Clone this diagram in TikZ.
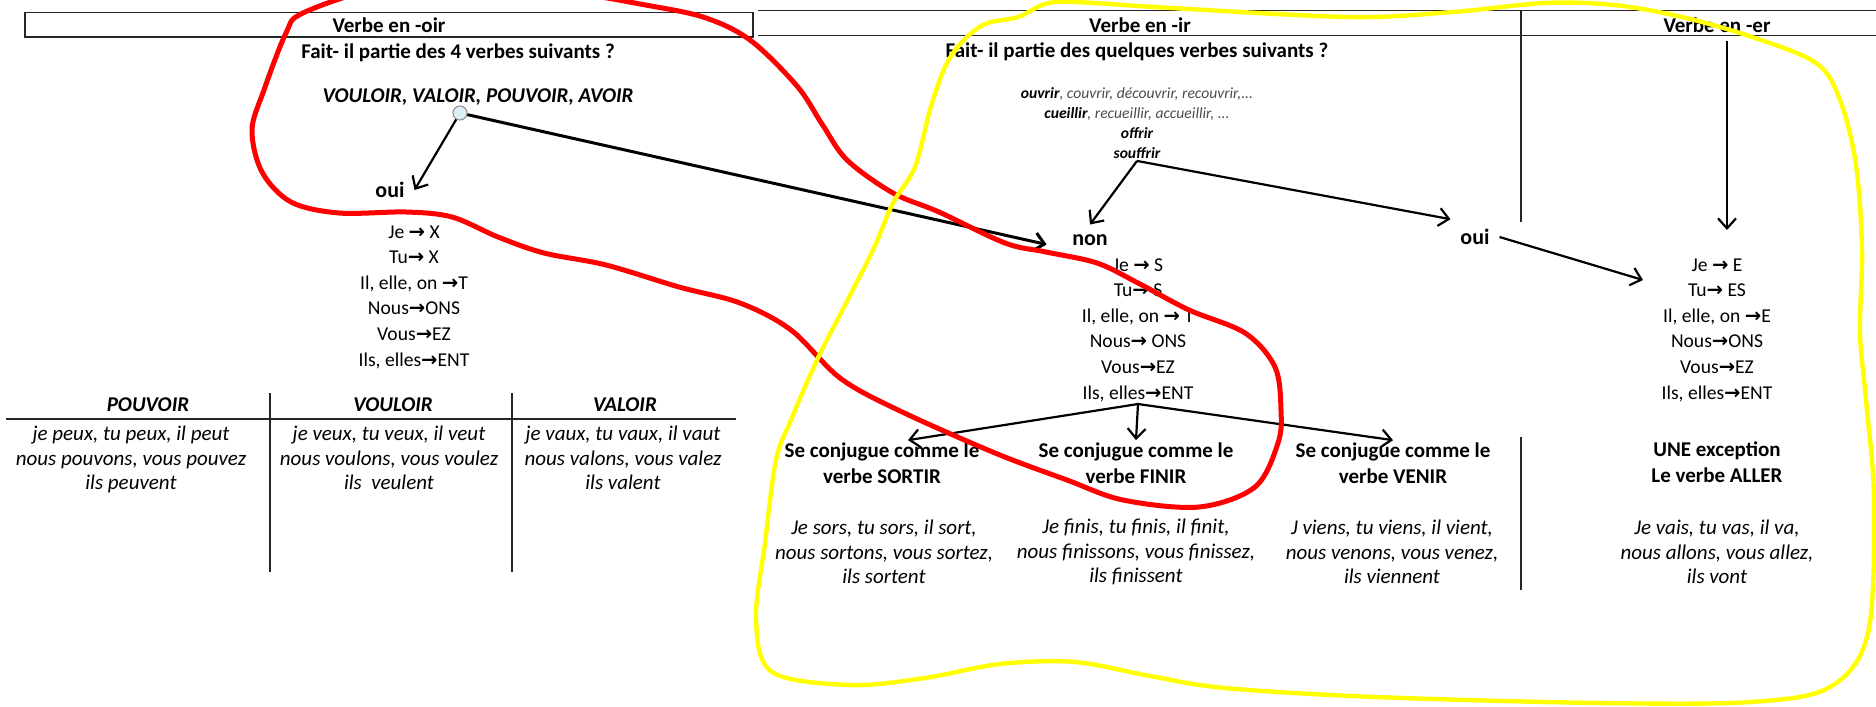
\documentclass[tikz,border=0pt]{standalone}
\usepackage{fontspec}
\setmainfont{Carlito}
\newfontfamily\arrowfont{DejaVu Sans}
\usetikzlibrary{arrows.meta}
\newcommand{\fleche}{{\arrowfont\bfseries →}}
\definecolor{penred}{HTML}{FF0000}
\definecolor{penyellow}{HTML}{FFFF00}
\definecolor{knob}{HTML}{DCEFF5}

\begin{document}
\begin{tikzpicture}[
			x=0.5pt, y=-0.5pt,
			every node/.style={inner sep=1pt},
			>={Straight Barb[length=5pt,width=9pt]},
			arrow/.style={->, line width=1.1pt},
			rule/.style={line width=0.7pt, black!85},
			colhead/.style={font=\bfseries\fontsize{10.5}{12}\selectfont},
			answer/.style={font=\bfseries\fontsize{11}{13}\selectfont, outer sep=4pt},
			ending/.style={align=center, font=\fontsize{9.8}{12.8}\selectfont},
			model/.style={align=center, font=\bfseries\fontsize{10.5}{13}\selectfont},
			forms/.style={align=center, font=\itshape\fontsize{10.5}{12.2}\selectfont},
			verblist/.style={align=center, font=\itshape\fontsize{7.8}{10}\selectfont},
			marker/.style={line width=2.5pt, line join=round, line cap=round}
		]
		\useasboundingbox (0,0) rectangle (1876,707);
		\clip (0,0) rectangle (1876,707);

		% header row
		\draw[rule] (25,12.5) rectangle (753,37);
		\draw[rule] (758,10.5) -- (1876,10.5) (758,35.7) -- (1876,35.7);
		\draw[rule] (1521,10.5) -- (1521,222);
		\draw[rule] (1521,437) -- (1521,590);
		\node (hdroir) [colhead] at (389,25) {Verbe en -oir};
		\node (hdrir) [colhead] at (1140,25) {Verbe en -ir};
		\node (hdrer) [colhead] at (1717,25) {Verbe en -er};

		% -oir
		\node (askoir) [colhead] at (458,53) {Fait- il partie des 4 verbes suivants ?};
		\node (listoir) [font=\bfseries\itshape\fontsize{10.5}{12}\selectfont] at (478,97) {VOULOIR, VALOIR, POUVOIR, AVOIR};
		\node (knob) [circle, draw=black!45, fill=knob, line width=0.5pt, minimum size=7pt, inner sep=0pt] at (460,113) {};
		\node (ouioir) [answer] at (390,190) {oui};
		\node (endoir) [ending] at (414,297) {Je \fleche{} X\\Tu\fleche{} X\\Il, elle, on \fleche T\\Nous\fleche ONS\\Vous\fleche EZ\\Ils, elles\fleche ENT};

		\draw[rule] (6,419) -- (736,419);
		\draw[rule] (270,393) -- (270,572);
		\draw[rule] (512,393) -- (512,572);
		\node (pouvoir) [font=\bfseries\itshape\fontsize{10.5}{12}\selectfont] at (148,405) {POUVOIR};
		\node (vouloir) [font=\bfseries\itshape\fontsize{10.5}{12}\selectfont] at (393,405) {VOULOIR};
		\node (valoir) [font=\bfseries\itshape\fontsize{10.5}{12}\selectfont] at (625,405) {VALOIR};
		\node (fpouvoir) [forms, anchor=north] at (131,424) {je peux, tu peux, il peut\\nous pouvons, vous pouvez\\ils peuvent};
		\node (fvouloir) [forms, anchor=north] at (389,424) {je veux, tu veux, il veut\\nous voulons, vous voulez\\ils\ \ veulent};
		\node (fvaloir) [forms, anchor=north] at (623,424) {je vaux, tu vaux, il vaut\\nous valons, vous valez\\ils valent};

		% -ir
		\node (askir) [colhead] at (1137,52) {Fait- il partie des quelques verbes suivants ?};
		\node (listir) [verblist] at (1137,123) {\textbf{ouvrir}{\color{black!70}, couvrir, découvrir, recouvrir,...}\\\textbf{cueillir}{\color{black!70}, recueillir, accueillir, ...}\\\textbf{offrir}\\\textbf{souffrir}};
		\node (nonir) [answer] at (1090,240) {non};
		\node (ouiir) [answer] at (1475,237) {oui};
		\node (endir) [ending] at (1138,330) {Je \fleche{} S\\Tu\fleche{} S\\Il, elle, on \fleche{} T\\Nous\fleche{} ONS\\Vous\fleche EZ\\Ils, elles\fleche ENT};
		\node (sortir) [model] at (882,463) {Se conjugue comme le\\verbe SORTIR};
		\node (finir) [model] at (1136,463) {Se conjugue comme le\\verbe FINIR};
		\node (venir) [model] at (1393,463) {Se conjugue comme le\\verbe VENIR};
		\node (fsortir) [forms] at (884,552) {Je sors, tu sors, il sort,\\nous sortons, vous sortez,\\ils sortent};
		\node (ffinir) [forms] at (1136,552) {Je finis, tu finis, il finit,\\nous finissons, vous finissez,\\ils finissent};
		\node (fvenir) [forms] at (1392,552) {J viens, tu viens, il vient,\\nous venons, vous venez,\\ils viennent};

		% -er
		\node (ender) [ending] at (1717,330) {Je \fleche{} E\\Tu\fleche{} ES\\Il, elle, on \fleche E\\Nous\fleche ONS\\Vous\fleche EZ\\Ils, elles\fleche ENT};
		\node (aller) [model] at (1717,462) {UNE exception\\Le verbe ALLER};
		\node (faller) [forms] at (1717,552) {Je vais, tu vas, il va,\\nous allons, vous allez,\\ils vont};
		\coordinate (erdrop) at (1727,41);
		\coordinate (erstop) at (1727,230);
		\coordinate (erin) at (1643,280);

		% arrows
		\draw[arrow] (knob) -- (ouioir.east);
		\draw[arrow, line width=1.5pt, shorten >=8pt] (knob) -- ([yshift=-4pt]nonir.west);
		\draw[arrow] (listir.south) -- (nonir.north);
		\draw[arrow] (listir.south) -- (ouiir.north west);
		\draw[arrow] (ouiir.east) -- (erin);
		\draw[arrow] (erdrop) -- (erstop);
		\draw[arrow] (endir.south) -- ([xshift=13pt]sortir.north);
		\draw[arrow] (endir.south) -- (finir.north);
		\draw[arrow] (endir.south) -- (venir.north);

		% pen strokes
		\draw[marker, penred] plot[smooth cycle, tension=0.55] coordinates {
			(303,13) (286,33) (264,90) (252,130) (262,172) (291,202) (339,213) (406,212)
			(452,217) (498,237) (544,253) (606,265) (679,287) (740,303) (791,330) (840,378)
			(898,410) (995,453) (1067,480) (1123,500) (1199,507) (1255,487) (1278,443) (1281,410)
			(1275,367) (1245,333) (1189,310) (1138,283) (1097,263) (1046,252) (1005,243) (939,212)
			(893,193) (847,160) (822,124) (797,86) (750,40) (703,17) (640,4) (582,-6)
			(480,-20) (380,-12)};
		\draw[marker, penyellow, line width=2.2pt] plot[smooth cycle, tension=0.55] coordinates {
			(1350,17) (1171,8) (1075,2) (1045,4) (1018,17) (985,24) (962,42) (945,67)
			(930,110) (915,167) (893,203) (873,250) (845,305) (817,360) (791,420) (776,460)
			(765,543) (756,620) (772,672) (850,685) (925,678) (1000,664) (1075,662) (1150,676)
			(1225,688) (1375,697) (1600,703) (1750,702) (1830,687) (1868,633) (1874,500) (1866,400)
			(1860,333) (1862,250) (1856,165) (1840,100) (1816,63) (1752,37) (1682,17) (1614,5)
			(1545,3) (1453,12)};
	\end{tikzpicture}
\end{document}
